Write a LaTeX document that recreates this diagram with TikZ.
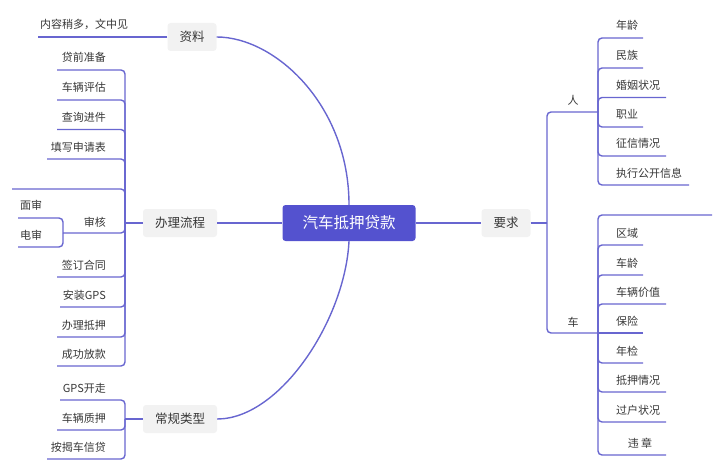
\documentclass[tikz,border=0pt]{standalone}
\usepackage{fontspec}
\setmainfont{Noto Sans CJK SC}
\definecolor{linec}{RGB}{104,102,208}
\definecolor{centerc}{RGB}{84,82,207}
\definecolor{boxc}{RGB}{242,242,242}
\definecolor{txtc}{RGB}{55,55,55}
\tikzset{
  link/.style={draw=linec, line width=1.4pt, rounded corners=4pt},
  curvelink/.style={draw=linec, line width=1.4pt},
  leaf/.style={font=\fontsize{11}{13}\selectfont, text=txtc, inner sep=0pt},
  branch/.style={fill=boxc, rounded corners=3pt, inner xsep=12pt, inner ysep=0pt, minimum height=28pt, font=\fontsize{12.5}{14}\selectfont, text=txtc},
  rootbox/.style={fill=centerc, rounded corners=3pt, inner xsep=20pt, inner ysep=0pt, minimum height=36pt, font=\fontsize{15.5}{17}\selectfont, text=white}
}
\begin{document}
\begin{tikzpicture}[x=1pt,y=-1pt]
\useasboundingbox (0,0) rectangle (720,476);
% main nodes
\node[rootbox] (root) at (349,223) {汽车抵押贷款};
\node[branch] (zl) at (192,37) {资料};
\node[branch] (lc) at (180,223) {办理流程};
\node[branch] (cg) at (180,419) {常规类型};
\node[branch] (yq) at (506,223) {要求};
\draw[curvelink] (zl.east) .. controls (275,37) and (349,105) .. (root.north);
\draw[curvelink] (root.south) .. controls (345,320) and (280,419) .. (cg.east);
\draw[curvelink] (lc.east) -- (root.west);
\draw[curvelink] (root.east) -- (yq.west);
% 资料
\node[leaf, anchor=base west] (zln) at (40,29) {内容稍多，文中见};
\coordinate (zlu) at (38,37);
\draw[link] (zl.west) -- (zlu);
% 办理流程
\coordinate (lcb) at (125,223);
\draw[link] (lc.west) -- (lcb);
\foreach \i/\t/\yl/\xl in {1/贷前准备/70/57, 2/车辆评估/100/57, 3/查询进件/129.5/57, 4/填写申请表/159/47, 6/签订合同/277/57, 7/安装GPS/307/60, 8/办理抵押/337/57, 9/成功放款/366/57} {
  \node[leaf, anchor=base east] (lc\i) at (106,\yl-8) {\t};
  \coordinate (lc\i u) at (\xl,\yl);
  \draw[link] (lc\i u) -| (lcb);
}
\coordinate (lc5u) at (12,189);
\draw[link] (lc5u) -| (lcb);
\node[leaf, anchor=base east] (sh) at (106,226) {审核};
\coordinate (shb) at (63,233);
\draw[link] (shb) -| (lcb);
\node[leaf, anchor=base west] (ms) at (20,209) {面审};
\coordinate (msu) at (18,218);
\draw[link] (msu) -| (shb);
\node[leaf, anchor=base west] (ds) at (20,239) {电审};
\coordinate (dsu) at (18,247);
\draw[link] (dsu) -| (shb);
% 常规类型
\coordinate (cgb) at (125,419);
\draw[link] (cg.west) -- (cgb);
\foreach \i/\t/\yl/\xl in {1/GPS开走/400/60, 2/车辆质押/430/57, 3/按揭车信贷/459/47} {
  \node[leaf, anchor=base east] (cg\i) at (106,\yl-8) {\t};
  \coordinate (cg\i u) at (\xl,\yl);
  \draw[link] (cg\i u) -| (cgb);
}
% 要求
\coordinate (yqb) at (547,223);
\draw[link] (yq.east) -- (yqb);
\node[leaf] (ren) at (573,100) {人};
\coordinate (renb) at (598,112);
\draw[link] (renb) -| (yqb);
\foreach \i/\t/\yl/\xr in {1/年龄/38/643, 2/民族/68/643, 3/婚姻状况/97.5/666, 4/职业/127/643, 5/征信情况/156/666, 6/执行公开信息/185/689} {
  \node[leaf, anchor=base west] (ren\i) at (616,\yl-8) {\t};
  \coordinate (ren\i u) at (\xr,\yl);
  \draw[link] (ren\i u) -| (renb);
}
\node[leaf] (che) at (573,322) {车};
\coordinate (cheb) at (598,333);
\draw[link] (cheb) -| (yqb);
\coordinate (che0u) at (712,215);
\draw[link] (che0u) -| (cheb);
\foreach \i/\t/\yl/\xr in {1/区域/245/643, 2/车龄/275/643, 3/车辆价值/304/666, 5/年检/363/643, 6/抵押情况/392/666, 7/过户状况/422/666} {
  \node[leaf, anchor=base west] (che\i) at (616,\yl-8) {\t};
  \coordinate (che\i u) at (\xr,\yl);
  \draw[link] (che\i u) -| (cheb);
}
\node[leaf, anchor=base west] (che4) at (616,325) {保险};
\coordinate (che4u) at (643,333);
\draw[link] (che4u) -- (cheb);
\node[leaf, anchor=base] (che8) at (640,447) {违 章};
\coordinate (che8u) at (666,455);
\draw[link] (che8u) -| (cheb);
\end{tikzpicture}
\end{document}
